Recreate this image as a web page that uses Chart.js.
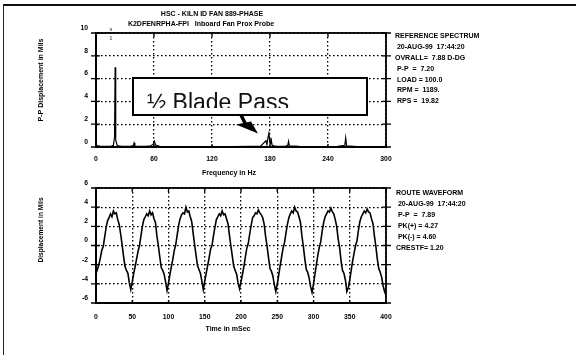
<!DOCTYPE html>
<html>
<head>
<meta charset="utf-8">
<script src="https://cdn.jsdelivr.net/npm/chart.js@4"></script>
<style>
  html, body { margin: 0; padding: 0; background: #fff; }
  #wrap { position: relative; width: 576px; height: 355px; overflow: hidden; }
  #wrap canvas { position: absolute; left: 0; top: 0; }
  #frame { position: absolute; left: 3px; top: 4px; width: 600px; height: 400px;
           border-top: 2px solid #111; border-left: 1.5px solid #222; }
</style>
</head>
<body>
<div id="wrap">
  <div id="frame"></div>
  <canvas id="spec" width="576" height="355"></canvas>
  <canvas id="wave" width="576" height="355"></canvas>
</div>
<script>
const FONT = "'Liberation Sans', Arial, sans-serif";

// spectrum: frequency (Hz) / P-P displacement (mils)
const specHz = [0, 4, 8, 12, 16, 18, 19.2, 19.8, 20.4, 22, 26, 30, 36, 38.6, 39.4, 40.2, 44, 50, 56, 59.2,
  60.4, 61.6, 66, 80, 100, 120, 140, 160, 170, 175.8, 176.8, 177.8, 178.9, 180, 181, 182.2, 186, 196, 198.4, 199.2,
  200, 210, 230, 250, 257.4, 258.3, 259.2, 270, 290, 300];
const specAmp = [0.12, 0.08, 0.06, 0.06, 0.08, 0.15, 0.9, 7.0, 0.6, 0.12, 0.06, 0.05, 0.08, 0.12, 0.35, 0.08, 0.05, 0.05, 0.07, 0.25,
  0.5, 0.18, 0.05, 0.04, 0.04, 0.04, 0.04, 0.05, 0.06, 0.55, 0.2, 0.75, 1.2, 0.3, 0.8, 0.15, 0.06, 0.06, 0.15, 0.5,
  0.1, 0.05, 0.04, 0.05, 0.15, 0.8, 0.1, 0.04, 0.04, 0.04];

// waveform: one sample every 2 msec, 0..400 msec
const SAMPLE_MS = 2;
const waveMils = [
  -2.9, -2.5, -2.0, -1.3, -0.5, -0.1, 0.9, 1.9, 2.6, 2.9, 3.3, 3.0, 3.6, 3.3, 3.4, 2.7, 2.2, 1.2, 0.1, -1.1, -2.2, -2.6, -2.9, -3.9, -4.6,
  -3.8, -2.9, -2.2, -1.4, -0.6, 0.0, 1.0, 2.0, 2.7, 3.0, 3.3, 3.1, 3.6, 3.2, 3.4, 2.8, 2.4, 1.0, 0.0, -1.2, -2.3, -2.6, -3.0, -3.8, -4.7,
  -3.9, -3.0, -2.2, -1.4, -0.5, 0.1, 1.1, 2.1, 2.8, 3.2, 3.4, 3.3, 4.0, 3.5, 3.6, 3.0, 2.5, 1.3, 0.1, -1.0, -2.1, -2.5, -2.9, -3.7, -4.6,
  -3.7, -2.9, -2.1, -1.3, -0.4, 0.0, 1.0, 1.9, 2.7, 3.0, 3.3, 3.1, 3.6, 3.2, 3.3, 2.8, 2.3, 1.1, 0.0, -1.1, -2.2, -2.6, -3.0, -3.9, -4.5,
  -3.8, -3.0, -2.2, -1.2, -0.3, 0.2, 1.2, 2.1, 2.9, 3.1, 3.4, 3.3, 3.7, 3.4, 3.2, 2.9, 2.2, 0.9, -0.1, -1.3, -2.4, -2.7, -3.2, -4.1, -4.8,
  -4.0, -3.1, -2.1, -1.2, -0.3, 0.3, 1.3, 2.2, 2.9, 3.3, 3.6, 3.4, 4.0, 3.6, 3.5, 3.0, 2.4, 1.0, -0.1, -1.4, -2.5, -2.8, -3.4, -4.3, -4.9,
  -4.0, -3.0, -2.0, -1.0, -0.2, 0.4, 1.5, 2.4, 3.0, 3.3, 3.6, 3.5, 3.9, 3.5, 3.3, 2.7, 2.0, 0.7, -0.2, -1.6, -2.6, -2.9, -3.6, -4.8, -4.4,
  -3.6, -2.6, -1.6, -0.8, 0.0, 0.5, 1.6, 2.5, 3.0, 3.3, 3.6, 3.4, 3.8, 3.5, 3.4, 2.8, 2.3, 1.0, -0.1, -1.4, -2.4, -2.8, -3.3, -4.2, -4.8,
  -5.2
];

const titleLines = ['HSC - KILN ID FAN 889-PHASE', 'K2DFENRPHA-FPI   Inboard Fan Prox Probe'];
const spectrumInfo = ['REFERENCE SPECTRUM', ' 20-AUG-99  17:44:20', 'OVRALL=  7.88 D-DG', ' P-P  =  7.20',
  ' LOAD = 100.0', ' RPM =  1189.', ' RPS =  19.82'];
const waveInfo = ['ROUTE WAVEFORM', ' 20-AUG-99  17:44:20', ' P-P  =  7.89', ' PK(+) = 4.27', ' PK(-) = 4.60', 'CRESTF= 1.20'];
const calloutText = '½ Blade Pass';

// solid frame around plot area plus short ticks crossing it
const frameTicks = {
  id: 'frameTicks',
  afterDraw(chart) {
    const { ctx, chartArea: a, scales: { x, y } } = chart;
    ctx.save();
    ctx.strokeStyle = '#000';
    ctx.lineWidth = 1.8;
    ctx.strokeRect(a.left, a.top, a.right - a.left, a.bottom - a.top);
    ctx.lineWidth = 1.3;
    ctx.beginPath();
    y.ticks.forEach(t => {
      const py = y.getPixelForValue(t.value);
      ctx.moveTo(a.left - 5, py); ctx.lineTo(a.left + 4, py);
      ctx.moveTo(a.right - 4, py); ctx.lineTo(a.right + 5, py);
    });
    x.ticks.forEach(t => {
      const px = x.getPixelForValue(t.value);
      ctx.moveTo(px, a.top); ctx.lineTo(px, a.top + 4);
      ctx.moveTo(px, a.bottom - 3); ctx.lineTo(px, a.bottom);
    });
    ctx.stroke();
    ctx.restore();
  }
};

// free text: titles, axis names, info blocks
const notes = {
  id: 'notes',
  afterDraw(chart, args, opts) {
    const ctx = chart.ctx;
    ctx.save();
    ctx.fillStyle = '#000';
    ctx.textBaseline = 'middle';
    (opts.items || []).forEach(it => {
      ctx.font = `bold ${it.size || 7}px ${FONT}`;
      if (it.rotate) {
        ctx.save();
        ctx.translate(it.x, it.y);
        ctx.rotate(-Math.PI / 2);
        ctx.textAlign = 'center';
        ctx.fillText(it.text, 0, 0);
        ctx.restore();
      } else {
        ctx.textAlign = it.align || 'left';
        ctx.fillText(it.text, it.x, it.y);
      }
    });
    ctx.restore();
  }
};

// boxed label with arrow on the spectrum
const callout = {
  id: 'callout',
  afterDraw(chart) {
    const ctx = chart.ctx;
    ctx.save();
    ctx.fillStyle = '#fff';
    ctx.fillRect(133, 78, 234, 37);
    ctx.strokeStyle = '#000';
    ctx.lineWidth = 2;
    ctx.strokeRect(133, 78, 234, 37);
    ctx.save();
    ctx.beginPath();
    ctx.rect(134, 79, 232, 29);
    ctx.clip();
    ctx.fillStyle = '#111';
    ctx.font = `23px ${FONT}`;
    ctx.textBaseline = 'alphabetic';
    ctx.fillText(calloutText, 147, 110);
    ctx.restore();
    ctx.fillStyle = '#000';
    ctx.lineWidth = 3.5;
    ctx.beginPath();
    ctx.moveTo(241, 115); ctx.lineTo(246, 125);
    ctx.stroke();
    ctx.beginPath();
    ctx.moveTo(236, 124.5); ctx.lineTo(251, 121.5); ctx.lineTo(258, 133.5);
    ctx.closePath();
    ctx.fill();
    // harmonic cursor mark above the running-speed line
    ctx.fillStyle = '#555';
    ctx.font = `bold 5px ${FONT}`;
    ctx.textAlign = 'center';
    ctx.fillText('v', 111, 31);
    ctx.fillText('1', 111, 40);
    ctx.restore();
  }
};

function scales(xMin, xMax, xStep, yMin, yMax, yStep, xPad) {
  const tickFont = { family: FONT, size: 6.8, weight: 'bold' };
  const gridOpts = { color: '#000', lineWidth: 1.3, drawTicks: false };
  const borderOpts = { display: true, color: '#000', width: 2, dash: [1.6, 2.4] };
  return {
    x: {
      type: 'linear', min: xMin, max: xMax,
      ticks: { stepSize: xStep, padding: xPad, color: '#000', font: tickFont, maxRotation: 0, autoSkip: false },
      grid: gridOpts,
      border: borderOpts,
      afterFit: s => { s.height = 20; }
    },
    y: {
      min: yMin, max: yMax,
      ticks: { stepSize: yStep, padding: 8, labelOffset: -5, color: '#000', font: tickFont },
      grid: gridOpts,
      border: borderOpts,
      afterFit: s => { s.width = 20; }
    }
  };
}

function infoItems(lines, x, y0, step) {
  return lines.map((t, i) => ({ text: t, x: x, y: y0 + i * step }));
}

new Chart(document.getElementById('spec'), {
  type: 'line',
  data: {
    datasets: [{
      data: specHz.map((f, i) => ({ x: f, y: specAmp[i] })),
      borderColor: '#000', borderWidth: 1.2, pointRadius: 0, tension: 0, fill: false
    }]
  },
  options: {
    responsive: false, animation: false, devicePixelRatio: 1,
    layout: { padding: { left: 76, right: 190, top: 33, bottom: 188 } },
    scales: scales(0, 300, 60, 0, 10, 2, 8),
    plugins: {
      legend: { display: false }, tooltip: { enabled: false },
      notes: {
        items: [
          { text: titleLines[0], x: 212, y: 14, align: 'center' },
          { text: titleLines[1], x: 201, y: 24, align: 'center' },
          { text: 'Frequency in Hz', x: 229, y: 173, align: 'center' },
          { text: 'P-P Displacement in Mils', x: 41, y: 80, rotate: true }
        ].concat(infoItems(spectrumInfo, 395, 36, 10.9))
      }
    }
  },
  plugins: [frameTicks, notes, callout]
});

new Chart(document.getElementById('wave'), {
  type: 'line',
  data: {
    datasets: [{
      data: waveMils.map((v, i) => ({ x: i * SAMPLE_MS, y: v })),
      borderColor: '#000', borderWidth: 1.6, pointRadius: 0, tension: 0, fill: false
    }]
  },
  options: {
    responsive: false, animation: false, devicePixelRatio: 1,
    layout: { padding: { left: 76, right: 190, top: 188, bottom: 32 } },
    scales: scales(0, 400, 50, -6, 6, 2, 10),
    plugins: {
      legend: { display: false }, tooltip: { enabled: false },
      notes: {
        items: [
          { text: 'Time in mSec', x: 228, y: 329, align: 'center' },
          { text: 'Displacement in Mils', x: 41, y: 230, rotate: true, size: 6.6 }
        ].concat(infoItems(waveInfo, 396, 193, 11))
      }
    }
  },
  plugins: [frameTicks, notes]
});
</script>
</body>
</html>
